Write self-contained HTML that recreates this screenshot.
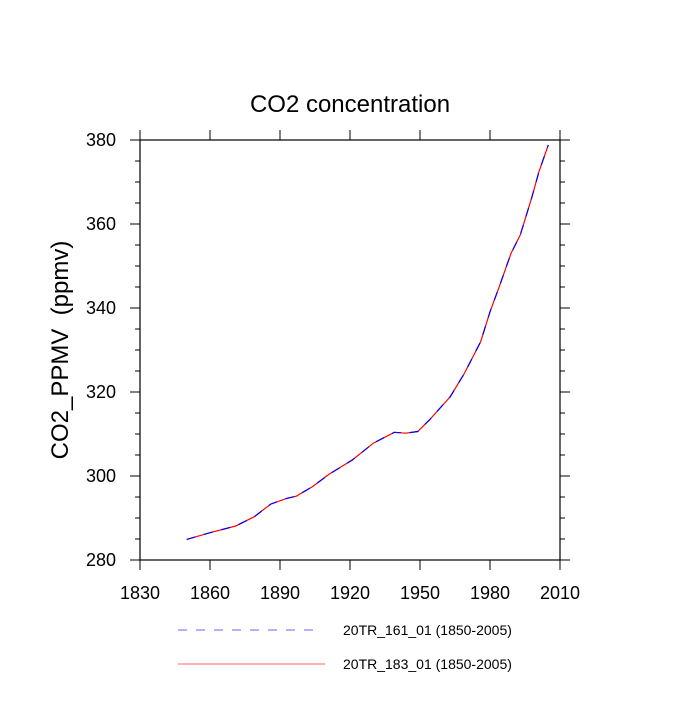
<!DOCTYPE html>
<html><head><meta charset="utf-8"><style>
body{margin:0;background:#fff}
svg text{font-family:"Liberation Sans",sans-serif;fill:#000}
</style></head><body>
<svg id="chart" width="700" height="700" viewBox="0 0 700 700">
<rect width="700" height="700" fill="#fff"/>
<text x="350" y="112" font-size="24" text-anchor="middle">CO2 concentration</text>
<text transform="translate(68,350) rotate(-90)" font-size="24" text-anchor="middle">CO2_PPMV&#160; (ppmv)</text>
<g id="axes"></g>
<g id="series"></g>
<g>
<line x1="178" y1="630" x2="318" y2="630" stroke="#6666ff" stroke-width="1" stroke-dasharray="9,9"/>
<text x="343" y="635" font-size="14">20TR_161_01 (1850-2005)</text>
<line x1="178" y1="664" x2="325" y2="664" stroke="#ff6666" stroke-width="1"/>
<text x="343" y="669" font-size="14">20TR_183_01 (1850-2005)</text>
</g>
</svg>
<script>
const years=[1850,1860,1871,1879,1886,1893,1897,1904,1911,1921,1930,1939,1944,1949,1954,1963,1969,1976,1980,1984,1989,1993,1998,2001,2005];
const series161=[284.9,286.5,288.1,290.3,293.3,294.7,295.2,297.5,300.4,303.8,307.8,310.4,310.2,310.6,313.3,318.9,324.4,332.0,339.1,345.1,353.0,357.4,366.5,372.5,378.8];
const series183=[284.9,286.5,288.1,290.3,293.3,294.7,295.2,297.5,300.4,303.8,307.8,310.4,310.2,310.6,313.3,318.9,324.4,332.0,339.1,345.1,353.0,357.4,366.5,372.5,378.8];
const xTicks=[1830,1860,1890,1920,1950,1980,2010];
const yTicks=[280,300,320,340,360,380];
const X0=140,X1=560,Y0=560,Y1=140,XMIN=1830,XMAX=2010,YMIN=280,YMAX=380;
const xs=v=>X0+(v-XMIN)/(XMAX-XMIN)*(X1-X0);
const ys=v=>Y0-(v-YMIN)/(YMAX-YMIN)*(Y0-Y1);
const NS="http://www.w3.org/2000/svg";
const ax=document.getElementById('axes');
function mk(tag,attrs,parent){const e=document.createElementNS(NS,tag);for(const k in attrs)e.setAttribute(k,attrs[k]);parent.appendChild(e);return e;}
const frame=mk('rect',{x:X0,y:Y1,width:X1-X0,height:Y0-Y1,fill:'none',stroke:'#000','stroke-width':1.2},ax);


xTicks.forEach(t=>{
 const x=xs(t);
 const b=mk('line',{x1:x,y1:Y0,x2:x,y2:Y0+10,stroke:'#000','stroke-width':1},ax);
 
 
 const tp=mk('line',{x1:x,y1:Y1,x2:x,y2:Y1-10,stroke:'#000','stroke-width':1},ax);
 
 
 const l=mk('text',{x:x,y:599,'font-size':18,'text-anchor':'middle'},ax);
 l.textContent=t;
 
 
});
for(let v=YMIN;v<=YMAX;v+=5){
 const y=ys(v);const major=(v%20===0);const len=major?10:5;
 const a=mk('line',{x1:X0,y1:y,x2:X0-len,y2:y,stroke:'#000','stroke-width':1},ax);
 
 
 const r=mk('line',{x1:X1,y1:y,x2:X1+len,y2:y,stroke:'#000','stroke-width':1},ax);
 
 
}
yTicks.forEach(t=>{
 const l=mk('text',{x:116,y:ys(t)+6,'font-size':18,'text-anchor':'end'},ax);
 l.textContent=t;
 
 
});
const sg=document.getElementById('series');
function path(vals){return vals.map((v,i)=>(i?'L':'M')+xs(years[i]).toFixed(1)+','+ys(v).toFixed(1)).join(' ');}
const p1=mk('path',{d:path(series183),fill:'none',stroke:'#ff0000','stroke-width':1.2},sg);


const p2=mk('path',{d:path(series161),fill:'none',stroke:'#0000ff','stroke-width':1.2,'stroke-dasharray':'9,9'},sg);


</script>
</body></html>
